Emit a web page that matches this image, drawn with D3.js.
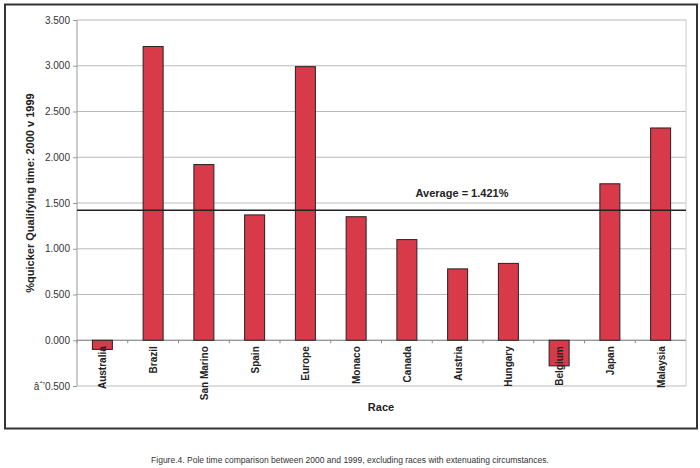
<!DOCTYPE html><html><head><script src="https://cdn.jsdelivr.net/npm/d3@7"></script>
<style>body{margin:0;background:#fff}text{font-family:Arial,"Liberation Sans",sans-serif}</style></head><body>
<svg id="c" width="700" height="468"></svg>
<script>
const races=["Australia","Brazil","San Marino","Spain","Europe","Monaco","Canada","Austria","Hungary","Belgium","Japan","Malaysia"];
const values=[-0.10,3.21,1.92,1.37,2.99,1.35,1.10,0.78,0.84,-0.28,1.71,2.32];
const yTicks=[-0.5,0,0.5,1,1.5,2,2.5,3,3.5];
const average=1.421;
const svg=d3.select("#c");
const L=77,R=686,T=20,B=386;
svg.append("rect").attr("x",5).attr("y",4.5).attr("width",692).attr("height",424).attr("fill","none").attr("stroke","#333").attr("stroke-width",2);
const x=d3.scaleBand().domain(races).range([L,R]);
const y=d3.scaleLinear().domain([-0.5,3.5]).range([B,T]);
svg.append("g").selectAll("line").data(yTicks).join("line").attr("x1",L).attr("x2",R).attr("y1",d=>y(d)).attr("y2",d=>y(d)).attr("stroke","#bbb");
svg.append("line").attr("x1",L).attr("x2",L).attr("y1",T).attr("y2",B).attr("stroke","#999");
svg.append("line").attr("x1",R).attr("x2",R).attr("y1",T).attr("y2",B).attr("stroke","#ccc");
const ya=svg.append("g").attr("transform",`translate(${L},0)`).call(d3.axisLeft(y).tickValues(yTicks).tickFormat(d3.format(".3f")).tickSize(4));
ya.select(".domain").remove();ya.selectAll("line").attr("stroke","#999");
ya.selectAll("text").attr("font-size",10).attr("fill","#333");
svg.append("line").attr("x1",L).attr("x2",R).attr("y1",y(0)).attr("y2",y(0)).attr("stroke","#888");
svg.append("g").selectAll("line").data(races).join("line").attr("x1",d=>x(d)).attr("x2",d=>x(d)).attr("y1",y(0)).attr("y2",y(0)+3).attr("stroke","#888");
const bw=20;
svg.append("g").selectAll("rect").data(values).join("rect")
 .attr("x",(d,i)=>x(races[i])+x.bandwidth()/2-bw/2).attr("width",bw)
 .attr("y",d=>y(Math.max(0,d))).attr("height",d=>Math.abs(y(d)-y(0)))
 .attr("fill","#d93a4a").attr("stroke","#222").attr("stroke-width",1);
svg.append("g").selectAll("text").data(races).join("text")
 .attr("transform",d=>`translate(${x(d)+x.bandwidth()/2+4},${y(0)+6}) rotate(-90)`)
 .attr("text-anchor","end").attr("font-size",10).attr("font-weight","bold").attr("fill","#222").text(d=>d);
svg.append("line").attr("x1",L).attr("x2",R).attr("y1",y(average)).attr("y2",y(average)).attr("stroke","#222").attr("stroke-width",1.5);
svg.append("text").attr("x",462).attr("y",197).attr("text-anchor","middle").attr("font-size",11).attr("font-weight","bold").attr("fill","#222").text("Average = "+average.toFixed(3)+"%");
svg.append("text").attr("transform",`translate(34,${(T+B)/2-10}) rotate(-90)`).attr("text-anchor","middle").attr("font-size",11).attr("font-weight","bold").attr("fill","#222").text("%quicker Qualifying time: 2000 v 1999");
svg.append("text").attr("x",381).attr("y",411).attr("text-anchor","middle").attr("font-size",11).attr("font-weight","bold").attr("fill","#222").text("Race");
svg.append("text").attr("x",350).attr("y",463).attr("text-anchor","middle").attr("font-size",8.5).attr("fill","#333").text("Figure.4. Pole time comparison between 2000 and 1999, excluding races with extenuating circumstances.");
</script></body></html>
